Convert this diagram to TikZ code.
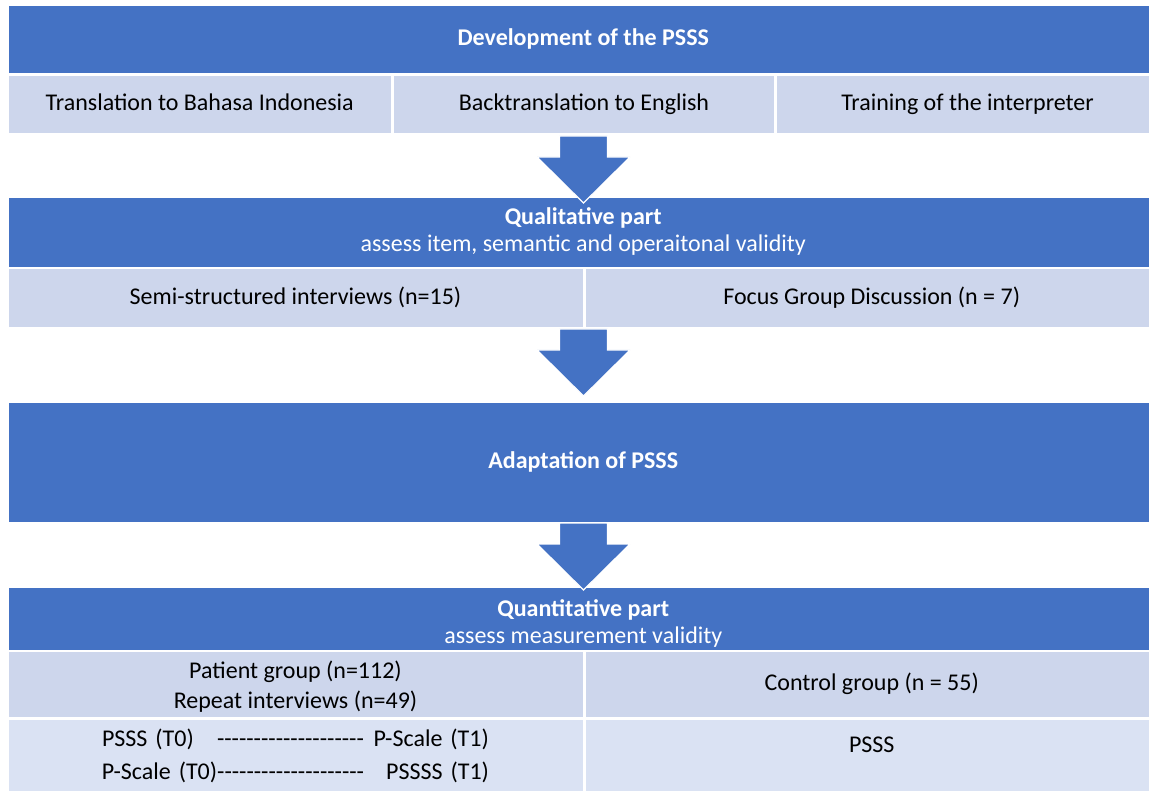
\documentclass[tikz,border=0pt]{standalone}
\usepackage{fontspec}
\setmainfont{Carlito}
\usetikzlibrary{positioning}

\definecolor{hdblue}{HTML}{4472C4}
\definecolor{rowblue}{HTML}{CDD6EC}
\definecolor{rowpale}{HTML}{DAE2F3}

% a run of single hyphens (kern stops them joining into dashes)
\newcommand{\hyrun}[1]{\foreach \k in {1,...,#1}{-\kern0pt}}
% one line of the test-retest cell, kept on a single line
\newcommand{\retest}[2]{\makebox[387pt]{#1\hfill\hyrun{20}\hspace{11pt}\makebox[114pt][r]{#2}}}
% block arrow hanging down from a coordinate
\newcommand{\downblock}[1]{\draw[blockarrow] (#1) ++(-24,0) -- ++(48,0) -- ++(0,21) -- ++(22.5,0) -- ++(-46.5,46) -- ++(-46.5,-46) -- ++(22.5,0) -- cycle;}

\begin{document}
\begin{tikzpicture}[x=1pt, y=-1pt,
  every node/.style={font=\fontsize{24}{27}\selectfont, inner sep=0pt, align=center, text height=17pt, text depth=5pt},
  hdr/.style={shape=rectangle, fill=hdblue, text=white},
  cell/.style={shape=rectangle, fill=rowblue},
  pale/.style={shape=rectangle, fill=rowpale},
  blockarrow/.style={fill=hdblue, draw=white, line width=1.2pt, line join=miter}]
\useasboundingbox (0,0) rectangle (1149,791);

% development
\node[hdr, minimum width=1149.5pt, minimum height=67pt] (dev) at (583.25,39.5) {\textbf{Development of the PSSS}};
\node[cell, minimum width=382.5pt, minimum height=57pt] (trans) at (199.75,104.5) {Translation to Bahasa Indonesia};
\node[cell, minimum width=380pt, minimum height=57pt] (back) at (584,104.5) {Backtranslation to English};
\node[cell, minimum width=381pt, minimum height=57pt] (train) at (967.5,104.5) {Training of the interpreter};

% qualitative part
\node[hdr, minimum width=1149.5pt, minimum height=69pt, text height=44pt] (qual) at (583.25,232.5) {\textbf{Qualitative part}\\assess item, semantic and operaitonal validity};
\node[cell, minimum width=574pt, minimum height=57.5pt] (semi) at (295.5,298.25) {Semi-structured interviews (n=15)};
\node[cell, minimum width=572.5pt, minimum height=57.5pt] (fgd) at (871.75,298.25) {Focus Group Discussion (n = 7)};

% adaptation
\node[hdr, minimum width=1149.5pt, minimum height=119pt] (adapt) at (583.25,462.5) {\textbf{Adaptation of PSSS}};

% quantitative part
\node[hdr, minimum width=1149.5pt, minimum height=62pt, text height=53pt] (quant) at (583.25,619) {\textbf{Quantitative part}\\assess measurement validity};
\node[cell, minimum width=574pt, minimum height=65pt, text height=52pt] (patient) at (295.5,684.5) {Patient group (n=112)\\[3pt]Repeat interviews (n=49)};
\node[cell, minimum width=572.5pt, minimum height=65pt] (control) at (871.75,684.5) {Control group (n = 55)};
\node[pale, minimum width=574pt, minimum height=80pt, text width=387pt, text depth=45pt] (patscale) at (295.5,760)
  {\retest{PSSS (T0)}{P-Scale (T1)}\\[6pt]\retest{P-Scale (T0)}{PSSSS (T1)}};
\node[pale, minimum width=572.5pt, minimum height=80pt, text height=5pt, text depth=21pt] (conscale) at (871.75,760) {PSSS};

% arrows between the stages
\coordinate (c1) at (583.5,136);
\coordinate (c2) at (583.5,329);
\coordinate (c3) at (583.5,523);
\downblock{c1}
\downblock{c2}
\downblock{c3}
\end{tikzpicture}
\end{document}
